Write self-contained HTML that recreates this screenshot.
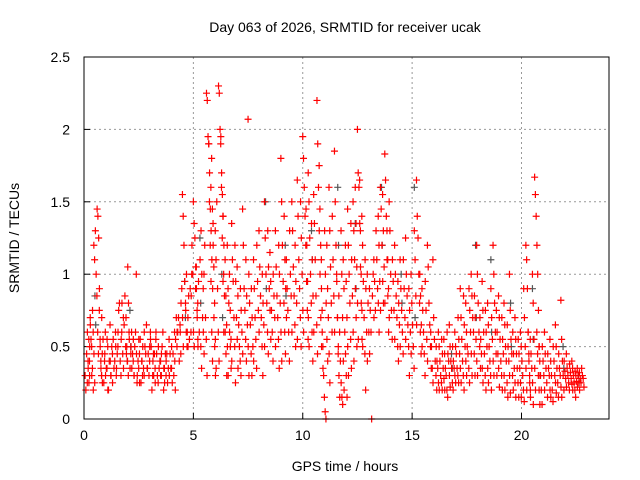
<!DOCTYPE html>
<html><head><meta charset="utf-8"><style>
body{margin:0;background:#fff}
svg{display:block;font-family:"Liberation Sans",sans-serif}
</style></head><body>
<svg id="chart" width="640" height="480">
<text x="345" y="32" text-anchor="middle" font-size="14">Day 063 of 2026, SRMTID for receiver ucak</text>
<text x="19" y="238" text-anchor="middle" font-size="14" transform="rotate(-90 19 238)">SRMTID / TECUs</text>
<text x="345" y="471" text-anchor="middle" font-size="14">GPS time / hours</text>
<g id="grid"></g>
<g id="ticks"></g>
<g id="gray"></g>
<g id="red"></g>
<rect x="84" y="57" width="525" height="362" fill="none" stroke="#000" stroke-width="1"/>
</svg>
<script>
const xTicks=[0,5,10,15,20];
const yTicks=[0,0.5,1,1.5,2,2.5];
const yTickLabels=["0","0.5","1","1.5","2","2.5"];
const redTimes=[0.05,0.25,0.45,0.6,0.8,1.05,1.3,1.55,1.8,2.0,2.25,2.5,2.75,3.0,3.25,3.5,3.75,4.0,4.25,4.5,4.75,5.0,5.2,5.45,5.6,5.8,6.0,6.15,6.35,6.55,6.75,7.0,7.25,7.5,7.75,8.0,8.25,8.5,8.75,9.0,9.25,9.5,9.75,10.0,10.25,10.5,10.65,10.85,11.0,11.2,11.45,11.65,11.85,12.05,12.3,12.5,12.7,12.95,13.15,13.35,13.55,13.75,13.95,14.2,14.45,14.7,14.95,15.2,15.45,15.7,15.95,16.2,16.45,16.7,16.95,17.2,17.45,17.7,17.95,18.2,18.45,18.7,18.95,19.2,19.45,19.7,19.95,20.2,20.4,20.6,20.8,21.05,21.3,21.55,21.8,22.05,22.3,22.55,22.75];
const redValues=[[.3,.2,.45,.6,.35,.25,.5],[.4,.7,.55,.3,.75,.2],[1.2,1.1,1.3,1.0,.85,.6,.45],[1.45,1.4,1.25,.9,.5,.35,.7],[.3,.45,.55,.25,.4,.6],[.35,.5,.2,.4,.65,.3],[.45,.55,.35,.4,.6,.3],[.5,.75,.8,.4,.3,.6],[.7,.65,.85,.5,.45,.4],[1.05,.8,.55,.35,.45,.6],[.4,.3,.5,.6,1.0,.25],[.35,.45,.55,.25,.4,.3],[.3,.5,.45,.65,.35],[.4,.6,.5,.2,.3,.45],[.35,.55,.45,.3,.25],[.4,.3,.5,.6,.2,.35],[.3,.45,.25,.35,.55],[.35,.25,.45,.3,.6,.2],[.5,.6,.7,.4,.65,.45],[1.55,1.4,1.2,.95,.8,.6,.5],[.7,.85,.55,.9,.6,1.0],[1.5,1.35,1.25,1.05,.9,.7,.5],[.8,.95,.6,1.1,.5,.35],[.9,1.0,1.2,.7,.55,.3],[2.25,2.2,1.95,1.9,1.7,1.45,1.3,1.1,.9],[1.6,1.8,1.45,1.2,.7,.5,.3],[1.3,1.1,1.5,.9,.6,.4],[2.3,2.25,2.0,1.95,1.7,1.55,1.4,1.2],[1.4,1.0,.85,.6,.45,.3],[1.2,.9,.8,.6,.5,.35],[1.35,1.1,.95,.7,.5,.25],[1.05,.85,.65,.5,.4,.3],[1.45,1.2,.9,.75,.55,.4],[2.07,1.0,.8,.65,.45,.3],[1.1,.9,.7,.55,.35],[1.3,1.05,.85,.7,.5,.3],[1.5,1.25,1.0,.8,.6,.45],[1.15,.95,.75,.6,.4],[1.3,1.05,.85,.7,.55,.35],[1.8,1.5,1.2,.95,.8,.6,.45],[1.1,.9,.75,.6,.4],[1.5,1.3,1.05,.85,.65,.5],[1.65,1.4,1.1,.9,.7,.5],[1.95,1.8,1.6,1.4,1.2,.95,.75,.55],[1.7,1.5,1.25,1.0,.8,.6,.4],[1.55,1.35,1.1,.85,.65,.45],[2.2,1.9,1.6,1.3,1.0,.7,.5],[1.1,.75,.5,.3,.15,.05,0],[1.3,1.0,.8,.55,.4],[1.6,1.3,1.05,.8,.6],[1.85,1.5,1.2,.95,.7,.5],[.85,.6,.4,.25,.15,.1],[1.1,.9,.6,.45,.3,.15],[1.45,1.2,1.0,.8,.55,.35],[1.5,1.3,1.1,.9,.7,.5],[2.0,1.7,1.6,1.35,1.05,.8,.55],[1.4,1.2,.95,.7,.45,.2],[1.0,.8,.6,.45],[0,.85,1.0,.7],[1.3,1.1,.9,.8,.6],[1.6,1.45,1.2,.95,.8],[1.83,1.65,1.4,1.1,.85,.6],[1.5,1.3,1.0,.75,.55],[1.2,1.0,.85,.7,.5,.4],[1.1,.9,.75,.6,.45],[1.25,1.0,.85,.65,.5,.3],[1.0,.8,.65,.5,.35],[1.65,1.4,1.25,1.0,.8,.6,.45],[.9,.75,.6,.45,.3],[1.2,1.05,.8,.65,.5,.35],[1.1,.7,.55,.4,.3,.2],[.6,.5,.4,.3,.25,.2],[.55,.45,.35,.3,.2,.15],[.65,.5,.4,.35,.25,.2],[.6,.5,.45,.35,.3,.25],[.9,.7,.55,.4,.3,.2],[.8,.6,.5,.45,.35,.25],[1.0,.85,.7,.6,.45,.3],[1.2,1.0,.8,.6,.5,.35],[.95,.75,.6,.45,.3,.2],[.8,.65,.5,.4,.3,.2],[1.2,1.0,.8,.6,.45,.3],[.85,.7,.55,.4,.3,.2],[.8,.65,.5,.4,.25,.15],[1.0,.75,.55,.45,.3,.2],[.7,.55,.45,.35,.25,.15],[.6,.5,.4,.3,.2,.12],[1.2,1.1,.9,.6,.4,.25,.15],[.55,.45,.35,.25,.1],[1.67,1.55,1.4,1.2,1.0,.75,.5,.3],[.5,.4,.3,.2,.1],[.6,.45,.35,.25,.15],[.55,.4,.3,.2,.12],[.65,.5,.35,.25,.15],[.82,.55,.4,.3,.2],[.45,.35,.3,.25,.2],[.4,.35,.3,.25,.2,.15],[.35,.3,.25,.2],[.35,.3,.28,.22]];
const redTimes2=[0.15,0.35,0.7,0.95,1.2,1.45,1.7,1.92,2.15,2.4,2.65,2.9,3.15,3.4,3.65,3.9,4.15,4.4,4.65,4.9,5.1,5.35,5.7,5.9,6.25,6.45,6.65,6.9,7.15,7.4,7.65,7.9,8.15,8.4,8.65,8.9,9.15,9.4,9.65,9.9,10.15,10.4,10.75,11.1,11.35,11.55,11.75,11.95,12.2,12.4,12.6,12.85,13.05,13.25,13.45,13.65,13.85,14.1,14.35,14.6,14.85,15.1,15.35,15.6,15.85,16.1,16.35,16.6,16.85,17.1,17.35,17.6,17.85,18.1,18.35,18.6,18.85,19.1,19.35,19.6,19.85,20.1,20.3,20.5,20.7,20.95,21.2,21.45,21.7,21.95,22.2,22.45,22.65];
const redValues2=[[.25,.4,.55,.3,.65],[.5,.35,.6,.45,.25],[.75,.55,.4,.3,.25],[.45,.3,.35,.55,.2],[.4,.3,.5,.25],[.5,.35,.45,.6],[.55,.8,.45,.35],[.7,.5,.4,.3,.6],[.5,.35,.45,.55,.3],[.45,.3,.4,.55,.25],[.4,.5,.35,.6],[.35,.45,.3,.5,.55],[.4,.3,.45,.25,.6],[.5,.35,.4,.3,.45],[.35,.25,.45,.4],[.3,.45,.35,.5],[.4,.55,.7,.6],[.6,.8,.9,.7,.5],[.75,1.0,.6,.5],[.85,1.2,1.0,.6,.5],[.9,1.05,.75,.55],[1.3,1.0,.7,.6,.45],[1.9,1.5,1.2,.95,.6,.4],[1.35,1.05,.8,.55,.35],[1.9,1.6,1.25,.95,.6],[1.1,.85,.65,.5,.3],[1.0,.75,.55,.4],[1.2,.95,.7,.55,.35],[.9,.75,.6,.45],[1.1,.85,.65,.5,.3],[.9,.7,.5,.4],[1.2,.95,.75,.6],[1.0,.8,.65,.5],[1.3,1.05,.9,.75,.55],[1.0,.85,.7,.5],[1.2,1.0,.8,.6,.4],[1.4,1.1,.9,.7],[1.3,1.0,.85,.6],[1.2,.95,.8,.55],[1.5,1.25,1.0,.75,.6],[1.45,1.2,.95,.7,.5],[1.35,1.1,.85,.6],[1.75,1.45,1.2,.9,.6,.35],[1.2,.9,.7,.45,.25],[1.4,1.1,.85,.6],[1.0,.7,.45,.3,.15],[1.3,1.0,.7,.4,.2],[1.2,.95,.7,.5,.3],[1.35,1.1,.85,.6,.4],[1.6,1.35,1.05,.8,.55],[1.65,1.3,1.0,.75,.5],[1.1,.9,.6,.4],[.9,.75,.6],[1.1,.95,.75],[1.4,1.2,.95,.75],[1.55,1.3,1.05,.8],[1.3,1.1,.9,.7],[1.1,.95,.75,.55],[.95,.8,.65,.5],[1.1,.9,.7,.55],[.9,.75,.6,.45],[1.3,1.1,.85,.65],[1.0,.85,.65,.5],[.95,.75,.55,.4],[.6,.5,.35,.25],[.5,.4,.35,.25,.2],[.55,.45,.35,.28,.2],[.6,.45,.4,.3,.22],[.5,.4,.35,.3,.25],[.7,.55,.45,.35,.25],[.85,.65,.5,.4,.3],[.9,.75,.6,.45,.3],[.85,.7,.55,.4,.3],[.7,.55,.45,.35,.25],[.75,.6,.5,.35,.25],[.9,.7,.55,.4,.3],[.75,.6,.45,.35,.22],[.7,.55,.45,.3,.2],[.65,.5,.4,.3,.18],[.6,.45,.35,.25,.15],[.55,.45,.35,.25,.15],[.9,.7,.5,.35,.2],[.6,.45,.3,.2],[1.0,.8,.55,.35,.2],[.6,.45,.3,.2,.1],[.5,.4,.3,.2],[.45,.35,.3,.2,.15],[.5,.4,.3,.25,.18],[.45,.35,.3,.22,.15],[.4,.33,.28,.22],[.38,.32,.28,.24,.2],[.33,.3,.26,.22],[.32,.28,.25]];
const grayTimes=[0.5,2.1,4.6,5.3,6.3,8.3,9.2,10.4,11.6,12.4,13.6,14.5,15.1,16.8,17.9,18.6,19.5,20.5,21.9,22.6];
const grayValues=[[.85,.65],[.75,.5],[.95,.7],[1.25,.8],[1.0,.7],[1.5,.9],[1.2,.85],[1.3,1.1],[1.6,1.2],[1.35,.9],[1.6,1.2],[1.0,.8],[1.6,.7],[.45,.35],[1.2,.7],[1.1,.6],[.8,.5],[.9,.55],[.5,.35],[.3,.25]];
const X0=84,X1=609,Y0=419,Y1=57,XMAX=24,YMAX=2.5;
const sx=t=>X0+t*(X1-X0)/XMAX;
const sy=v=>Y0-v*(Y0-Y1)/YMAX;
const NS="http://www.w3.org/2000/svg";
function mk(tag,attrs,parent){const e=document.createElementNS(NS,tag);for(const k in attrs)e.setAttribute(k,attrs[k]);parent.appendChild(e);return e;}
const grid=document.getElementById('grid'),ticks=document.getElementById('ticks');
xTicks.forEach(t=>{
  const x=sx(t);
  if(t>0){const g=mk('line',{x1:x,x2:x,y1:Y1,y2:Y0,stroke:'#999','stroke-dasharray':'2,3'},grid);
  
  }
  const l=mk('line',{x1:x,x2:x,y1:Y0,y2:Y0-6,stroke:'#000'},ticks);
  
  
  const tx=mk('text',{x:x,y:Y0+21,'text-anchor':'middle','font-size':14},ticks);
  tx.textContent=String(t);
  
  
});
yTicks.forEach((v,i)=>{
  const y=sy(v);
  if(v>0&&v<YMAX){const g=mk('line',{x1:X0,x2:X1,y1:y,y2:y,stroke:'#999','stroke-dasharray':'2,3'},grid);
  
  }
  const l=mk('line',{x1:X0,x2:X0+6,y1:y,y2:y,stroke:'#000'},ticks);
  
  
  const tx=mk('text',{x:X0-14,y:y+5,'text-anchor':'end','font-size':14},ticks);
  tx.textContent=yTickLabels[i];
  
  
});
function plot(times,vals,gid,color,name){
  const g=document.getElementById(gid);
  times.forEach((t,i)=>{
    vals[i].forEach((v,k)=>{
      const x=sx(t+k*0.035),y=sy(v);
      const p=mk('path',{d:`M${x-3.5},${y}h7M${x},${y-3.5}v7`,stroke:color,'stroke-width':1.2,fill:'none'},g);
      
      
    });
  });
}
plot(grayTimes,grayValues,'gray','#555','gray-point');
plot(redTimes,redValues,'red','#f00','red-point');
plot(redTimes2,redValues2,'red','#f00','red-point');
</script>
</body></html>
